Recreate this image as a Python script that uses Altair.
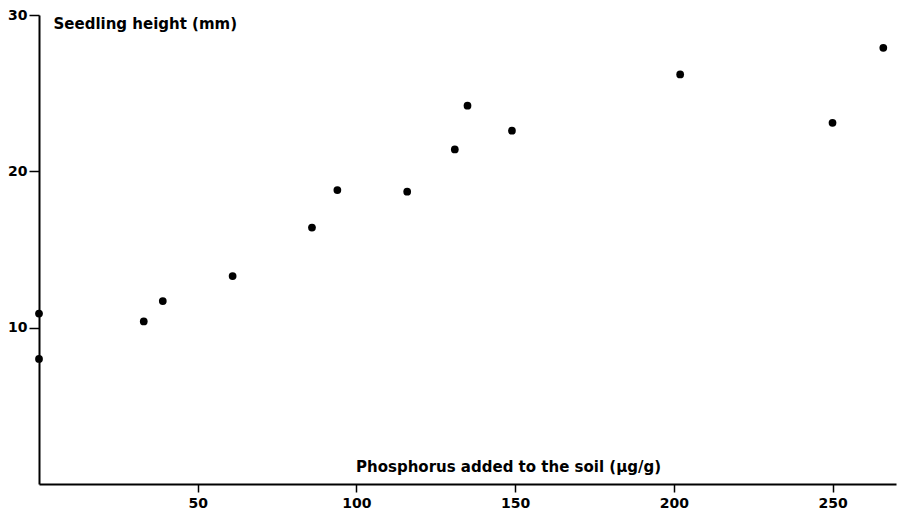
import altair as alt
import pandas as pd

# Phosphorus added to the soil (µg/g) and resulting seedling height (mm)
phosphorus = [0, 0, 33, 39, 61, 86, 94, 116, 131, 135, 149, 202, 250, 266]
seedling_height = [10.9, 8.0, 10.4, 11.7, 13.3, 16.4, 18.8, 18.7, 21.4, 24.2, 22.6, 26.2, 23.1, 27.9]

x_ticks = [50, 100, 150, 200, 250]
y_ticks = [10, 20, 30]

df = pd.DataFrame({"phosphorus": phosphorus, "height": seedling_height})

FONT = "DejaVu Sans"

chart = (
    alt.Chart(df)
    .mark_circle(size=60, color="black", opacity=1)
    .encode(
        x=alt.X(
            "phosphorus:Q",
            scale=alt.Scale(domain=[0, 270], nice=False, zero=True),
            axis=alt.Axis(
                values=x_ticks,
                title="Phosphorus added to the soil (µg/g)",
                titleX=469,
                titleY=-13,
                titleAlign="center",
                titleBaseline="alphabetic",
                tickSize=8,
                labelPadding=4,
            ),
        ),
        y=alt.Y(
            "height:Q",
            scale=alt.Scale(domain=[0, 30], nice=False, zero=True),
            axis=alt.Axis(
                values=y_ticks,
                title="Seedling height (mm)",
                titleAngle=0,
                titleX=14,
                titleY=13,
                titleAlign="left",
                titleBaseline="alphabetic",
                tickSize=10,
                labelPadding=2,
            ),
        ),
    )
    .properties(
        width=857,
        height=469,
        padding={"left": 39, "top": 15, "right": 6, "bottom": 31},
        autosize=alt.AutoSizeParams(type="none"),
    )
    .configure_view(stroke=None)
    .configure_axis(
        grid=False,
        domainColor="black",
        domainWidth=2,
        tickColor="black",
        tickWidth=1.5,
        labelColor="black",
        labelFont=FONT,
        labelFontSize=14,
        labelFontWeight="bold",
        titleColor="black",
        titleFont=FONT,
        titleFontSize=15,
        titleFontWeight="bold",
    )
)

chart.save("out.html", embed_options={"renderer": "svg", "actions": False})
